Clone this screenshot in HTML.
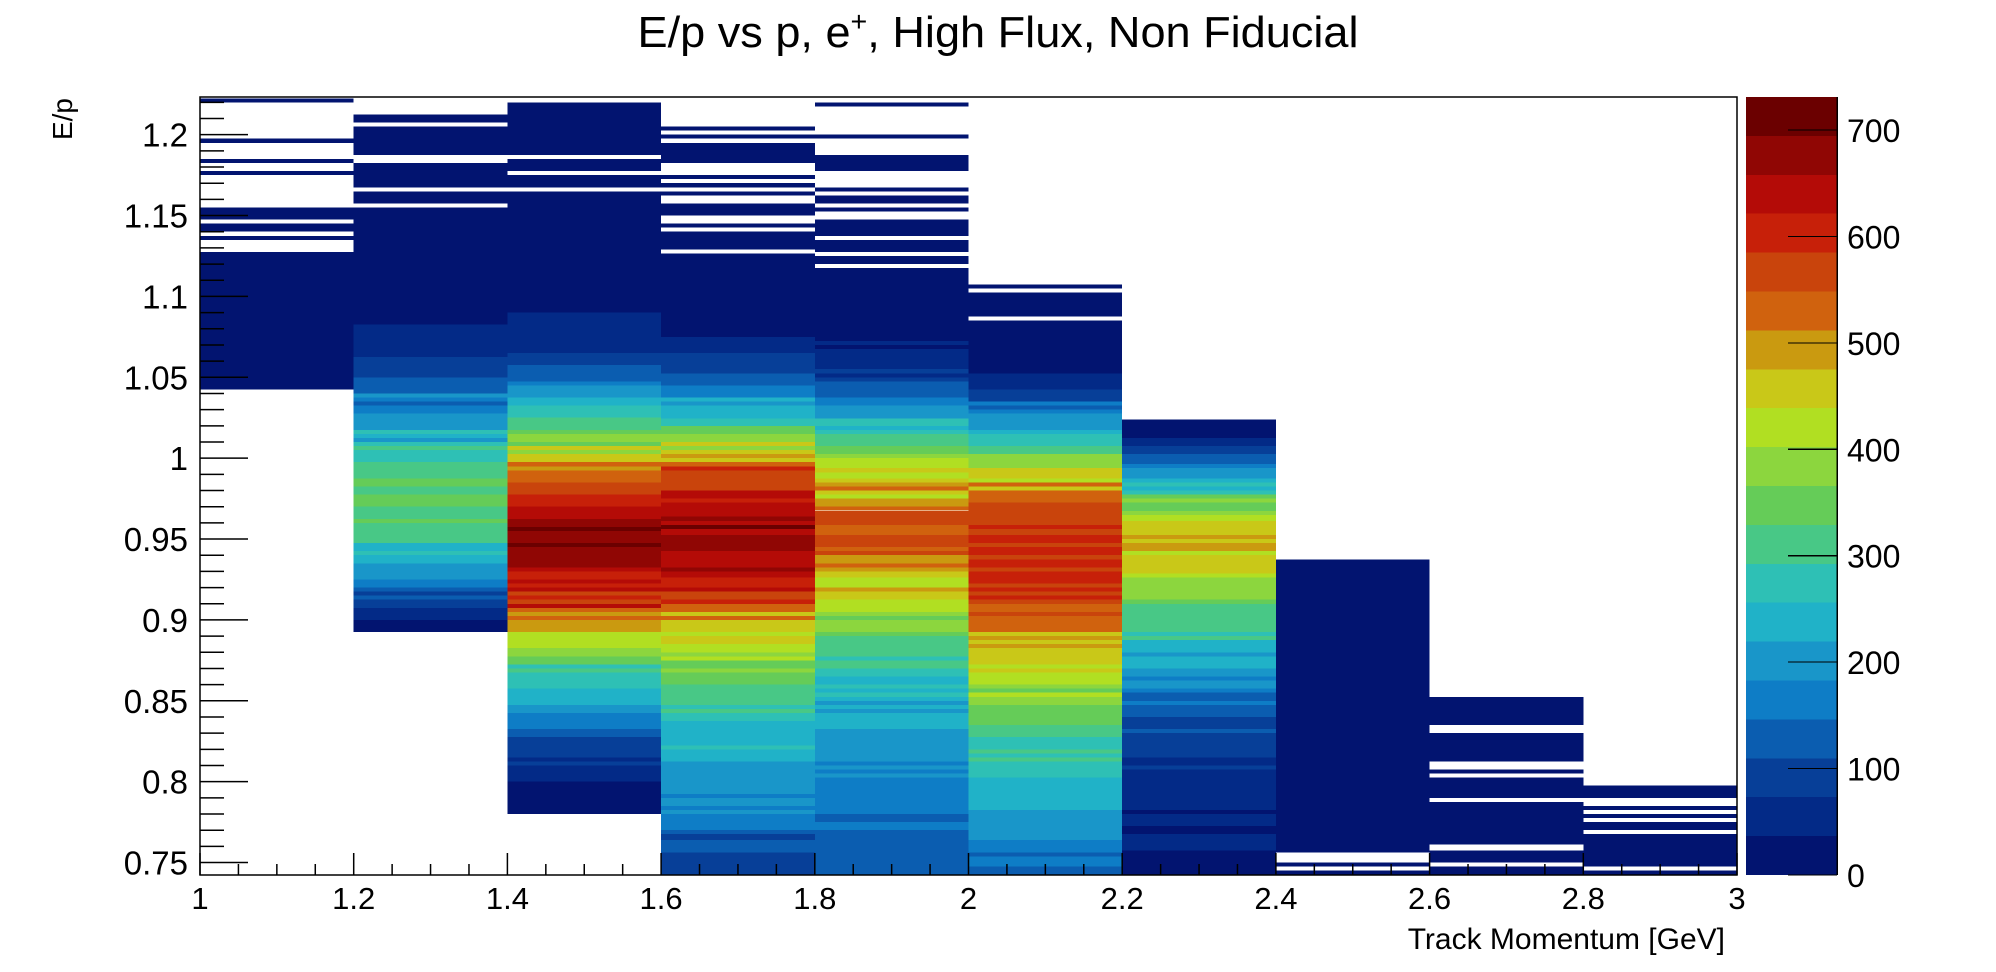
<!DOCTYPE html>
<html><head><meta charset="utf-8"><style>
html,body{margin:0;padding:0;background:#fff;}
svg{display:block;font-family:"Liberation Sans",Arial,sans-serif;}
</style></head><body>
<svg id="chart" width="1996" height="972" viewBox="0 0 1996 972" xmlns="http://www.w3.org/2000/svg">
<defs><clipPath id="pc"><rect x="200" y="97" width="1537" height="778"/></clipPath></defs>
<text x="998" y="47" font-size="44" text-anchor="middle" textLength="721" lengthAdjust="spacingAndGlyphs">E/p vs p, e<tspan font-size="28" dy="-16">+</tspan><tspan dy="16">, High Flux, Non Fiducial</tspan></text>
<g id="cells" clip-path="url(#pc)" shape-rendering="crispEdges"></g>
<rect x="200" y="97" width="1537" height="778" fill="none" stroke="#000" stroke-width="1.5"/>
<g id="axes"></g>
<g id="cbar" shape-rendering="crispEdges"></g>
<text x="1725" y="949" font-size="30" text-anchor="end">Track Momentum [GeV]</text>
<text transform="translate(72,98) rotate(-90)" font-size="28" text-anchor="end">E/p</text>
</svg>
<script>
const xBinEdges = [1.0,1.2,1.4,1.6,1.8,2.0,2.2,2.4,2.6,2.8,3.0];
const xTicks = [1,1.2,1.4,1.6,1.8,2,2.2,2.4,2.6,2.8,3];
const xTickLabels = ["1","1.2","1.4","1.6","1.8","2","2.2","2.4","2.6","2.8","3"];
const yTicks = [0.75,0.8,0.85,0.9,0.95,1.0,1.05,1.1,1.15,1.2];
const yTickLabels = ["0.75","0.8","0.85","0.9","0.95","1","1.05","1.1","1.15","1.2"];
const zTicks = [0,100,200,300,400,500,600,700];
const paletteColors = ["#021470","#032a87","#073f98","#0b5db0","#0e7dc6","#1996c9","#20b2c8","#2ec0b5","#48c886","#65cc58","#8cd63e","#b1df22","#c9c818","#ca9a10","#d0620e","#c9440c","#c72009","#b40b07","#900604","#6b0000"];

const edges1 = [1.2225,1.2200,1.1975,1.1950,1.1850,1.1825,1.1775,1.1750,1.1550,1.1475,1.1450,1.1400,1.1375,1.1350,1.1275,1.0425];
const counts1 = [18,0,18,0,18,0,18,0,18,0,18,0,18,0,18];
const edges2 = [1.2125,1.2075,1.2050,1.1875,1.1825,1.1675,1.1650,1.1575,1.1550,1.0825,1.0625,1.0500,1.0400,1.0375,1.0350,1.0325,1.0275,1.0175,1.0150,1.0125,1.0100,1.0075,1.0050,0.9975,0.9875,0.9825,0.9775,0.9700,0.9625,0.9600,0.9475,0.9425,0.9400,0.9350,0.9250,0.9200,0.9175,0.9150,0.9125,0.9075,0.9000,0.8925];
const counts2 = [18,0,18,0,18,0,18,0,18,55,91,128,201,164,128,164,201,274,237,201,274,310,274,310,347,310,347,310,347,310,237,274,237,201,164,128,91,128,91,55,18];
const edges3 = [1.2200,1.1875,1.1850,1.1775,1.1750,1.1675,1.1650,1.0900,1.0650,1.0575,1.0475,1.0450,1.0375,1.0325,1.0250,1.0175,1.0150,1.0100,1.0075,1.0050,1.0025,0.9975,0.9950,0.9925,0.9850,0.9775,0.9700,0.9625,0.9575,0.9550,0.9475,0.9450,0.9325,0.9300,0.9250,0.9225,0.9200,0.9175,0.9150,0.9125,0.9100,0.9075,0.9050,0.9025,0.9000,0.8925,0.8825,0.8775,0.8725,0.8700,0.8675,0.8575,0.8475,0.8425,0.8325,0.8275,0.8150,0.8125,0.8100,0.8000,0.7800];
const counts3 = [18,0,18,0,18,0,18,55,91,128,164,201,237,274,310,347,384,347,457,384,457,530,493,530,566,603,640,676,713,676,713,676,640,603,640,603,640,566,603,566,640,530,493,530,493,420,384,347,274,310,274,237,201,164,128,91,55,91,55,18];
const edges4 = [1.2050,1.2025,1.2000,1.1975,1.1950,1.1825,1.1750,1.1725,1.1700,1.1675,1.1650,1.1625,1.1575,1.1500,1.1450,1.1425,1.1400,1.1290,1.1265,1.0750,1.0700,1.0650,1.0525,1.0450,1.0375,1.0350,1.0325,1.0245,1.0200,1.0150,1.0100,1.0075,1.0050,1.0025,1.0000,0.9975,0.9950,0.9925,0.9800,0.9750,0.9725,0.9638,0.9613,0.9588,0.9563,0.9525,0.9425,0.9325,0.9300,0.9263,0.9200,0.9175,0.9125,0.9100,0.9050,0.9025,0.9000,0.8925,0.8900,0.8850,0.8800,0.8775,0.8750,0.8700,0.8675,0.8600,0.8475,0.8450,0.8425,0.8375,0.8225,0.8200,0.8125,0.7925,0.7900,0.7850,0.7825,0.7800,0.7700,0.7675,0.7638,0.7563,0.7400];
const counts4 = [18,0,18,0,18,0,18,0,18,0,18,0,18,0,18,0,18,0,18,55,55,91,128,164,237,201,237,274,347,384,457,384,457,493,457,530,603,566,640,603,640,676,640,713,640,676,640,676,640,603,640,566,603,530,457,530,457,420,457,420,384,420,347,384,347,310,274,310,274,237,274,237,201,164,201,164,201,164,128,91,128,91];
const edges5 = [1.2200,1.2175,1.2000,1.1975,1.1875,1.1775,1.1675,1.1650,1.1625,1.1575,1.1550,1.1525,1.1475,1.1375,1.1350,1.1275,1.1250,1.1200,1.1175,1.0725,1.0700,1.0675,1.0550,1.0525,1.0500,1.0475,1.0375,1.0325,1.0245,1.0200,1.0175,1.0150,1.0075,1.0025,1.0000,0.9938,0.9913,0.9875,0.9850,0.9825,0.9800,0.9775,0.9750,0.9700,0.9675,0.9588,0.9525,0.9450,0.9425,0.9400,0.9350,0.9325,0.9300,0.9263,0.9200,0.9175,0.9125,0.9050,0.9025,0.9000,0.8925,0.8900,0.8775,0.8750,0.8700,0.8650,0.8600,0.8575,0.8550,0.8525,0.8500,0.8475,0.8450,0.8425,0.8325,0.8125,0.8100,0.8075,0.8050,0.8025,0.7800,0.7750,0.7700,0.7400];
const counts5 = [18,0,18,0,18,0,18,0,18,0,18,0,18,0,18,0,18,0,18,55,18,55,91,55,91,128,164,201,274,237,274,310,347,384,420,457,420,457,493,530,457,420,493,530,566,530,566,530,566,493,530,493,457,420,493,457,420,384,347,384,347,310,274,310,274,237,274,237,274,237,201,237,201,237,201,164,201,164,201,164,128,164,128];
const edges6 = [1.1075,1.1050,1.1025,1.0875,1.0850,1.0525,1.0425,1.0350,1.0325,1.0300,1.0275,1.0175,1.0150,1.0075,1.0025,0.9938,0.9875,0.9850,0.9825,0.9800,0.9725,0.9588,0.9563,0.9525,0.9475,0.9450,0.9400,0.9375,0.9325,0.9300,0.9225,0.9200,0.9175,0.9150,0.9125,0.9100,0.9050,0.9025,0.8925,0.8900,0.8875,0.8850,0.8825,0.8725,0.8700,0.8675,0.8600,0.8575,0.8550,0.8525,0.8475,0.8350,0.8275,0.8200,0.8175,0.8150,0.8125,0.8025,0.7825,0.7638,0.7563,0.7538,0.7475,0.7400];
const counts6 = [18,0,18,0,18,55,91,164,128,164,201,237,274,310,384,457,420,530,457,530,566,603,566,603,566,603,566,603,566,603,566,603,566,603,566,530,566,530,457,493,457,493,457,420,457,420,384,347,420,384,347,310,274,310,274,310,274,237,201,164,128,164,128];
const edges7 = [1.0240,1.0125,1.0075,1.0025,0.9963,0.9938,0.9875,0.9850,0.9825,0.9800,0.9775,0.9750,0.9725,0.9675,0.9650,0.9613,0.9525,0.9500,0.9475,0.9425,0.9400,0.9288,0.9263,0.9125,0.9100,0.8925,0.8900,0.8875,0.8800,0.8775,0.8700,0.8650,0.8625,0.8575,0.8550,0.8500,0.8475,0.8400,0.8325,0.8300,0.8150,0.8100,0.8075,0.7825,0.7800,0.7725,0.7675,0.7575,0.7400];
const counts7 = [18,55,91,128,164,201,237,274,237,274,347,384,347,384,420,457,493,457,493,420,457,420,384,347,310,274,310,237,201,237,201,164,201,164,128,164,128,91,128,91,55,91,55,18,55,18,55,18];
const edges8 = [0.9375,0.7563,0.7500,0.7475,0.7450,0.7400];
const counts8 = [18,0,18,0,18];
const edges9 = [0.8525,0.8350,0.8300,0.8125,0.8075,0.8050,0.8025,0.7900,0.7875,0.7613,0.7575,0.7500,0.7475,0.7400];
const counts9 = [18,0,18,0,18,0,18,0,18,0,18,0,18];
const edges10 = [0.7975,0.7900,0.7850,0.7825,0.7800,0.7775,0.7750,0.7700,0.7675,0.7475,0.7450,0.7400];
const counts10 = [18,0,18,0,18,0,18,0,18,0,18];

const columnEdges = [edges1,edges2,edges3,edges4,edges5,edges6,edges7,edges8,edges9,edges10];
const columnCounts = [counts1,counts2,counts3,counts4,counts5,counts6,counts7,counts8,counts9,counts10];

const NS = "http://www.w3.org/2000/svg";
const PL = 200, PR = 1737, PT = 97, PB = 875;
const XMIN = 1, XMAX = 3, YMIN = 0.7423, YMAX = 1.2233, ZMAX = 731;
function X(v){ return PL + (v - XMIN) / (XMAX - XMIN) * (PR - PL); }
function Y(v){ return PT + (YMAX - v) / (YMAX - YMIN) * (PB - PT); }
function Z(c){ return PB - c / ZMAX * (PB - PT); }
function colorOf(c){ let l = Math.floor(c / ZMAX * paletteColors.length); if (l > 19) l = 19; if (l < 0) l = 0; return paletteColors[l]; }
function mk(tag, attrs, parent){ const e = document.createElementNS(NS, tag); for (const k in attrs) e.setAttribute(k, attrs[k]); parent.appendChild(e); return e; }

const cells = document.getElementById('cells');
for (let i = 0; i < columnEdges.length; i++) {
  const ed = columnEdges[i], ct = columnCounts[i];
  const x0 = X(xBinEdges[i]), x1 = X(xBinEdges[i + 1]);
  for (let j = 0; j < ct.length; j++) {
    if (ct[j] <= 0) continue;
    const y0 = Y(ed[j]), y1 = Y(ed[j + 1]);
    const r = mk('rect', {x: x0.toFixed(2), y: y0.toFixed(2), width: (x1 - x0).toFixed(2), height: (y1 - y0).toFixed(2), fill: colorOf(ct[j])}, cells);
    
    
  }
}

const axes = document.getElementById('axes');
for (let i = 0; i < xTicks.length; i++) {
  const x = X(xTicks[i]);
  const t = mk('line', {x1: x, x2: x, y1: PB, y2: PB - 22, stroke: '#000', 'stroke-width': 1.5}, axes);
  
  
  const lb = mk('text', {x: x, y: 909, 'font-size': 31, 'text-anchor': 'middle'}, axes);
  lb.textContent = xTickLabels[i];
  
  
  if (i < xTicks.length - 1) {
    for (let m = 1; m < 4; m++) {
      const xm = X(xTicks[i] + (xTicks[i + 1] - xTicks[i]) * m / 4);
      const mt = mk('line', {x1: xm, x2: xm, y1: PB, y2: PB - 11, stroke: '#000', 'stroke-width': 1.5}, axes);
      
      
    }
  }
}
for (let i = 0; i < yTicks.length; i++) {
  const y = Y(yTicks[i]);
  const t = mk('line', {x1: PL, x2: PL + 48, y1: y, y2: y, stroke: '#000', 'stroke-width': 1.5}, axes);
  
  
  const lb = mk('text', {x: 188, y: y + 12, 'font-size': 33, 'text-anchor': 'end'}, axes);
  lb.textContent = yTickLabels[i];
  
  
}
for (let k = -2; k <= 50; k++) {
  const v = 0.75 + k * 0.01;
  if (k % 5 === 0) continue;
  if (v < YMIN || v > YMAX) continue;
  const y = Y(v);
  const mt = mk('line', {x1: PL, x2: PL + 24, y1: y, y2: y, stroke: '#000', 'stroke-width': 1.5}, axes);
  
  
}

const cbar = document.getElementById('cbar');
const CL = 1746, CR = 1837;
for (let l = 0; l < paletteColors.length; l++) {
  const c0 = l * ZMAX / paletteColors.length, c1 = (l + 1) * ZMAX / paletteColors.length;
  const b = mk('rect', {x: CL, y: Z(c1).toFixed(2), width: CR - CL, height: (Z(c0) - Z(c1)).toFixed(2), fill: paletteColors[l]}, cbar);
  
  
}
const ax = mk('line', {x1: CR, x2: CR, y1: PT, y2: PB, stroke: '#000', 'stroke-width': 1.5}, cbar);


for (let i = 0; i < zTicks.length; i++) {
  const y = Z(zTicks[i]);
  const t = mk('line', {x1: CR - 49, x2: CR, y1: y, y2: y, stroke: '#000', 'stroke-width': 1.2}, cbar);
  
  
  const lb = mk('text', {x: 1847, y: y + 12, 'font-size': 32}, cbar);
  lb.textContent = String(zTicks[i]);
  
  
}
</script>
</body></html>
